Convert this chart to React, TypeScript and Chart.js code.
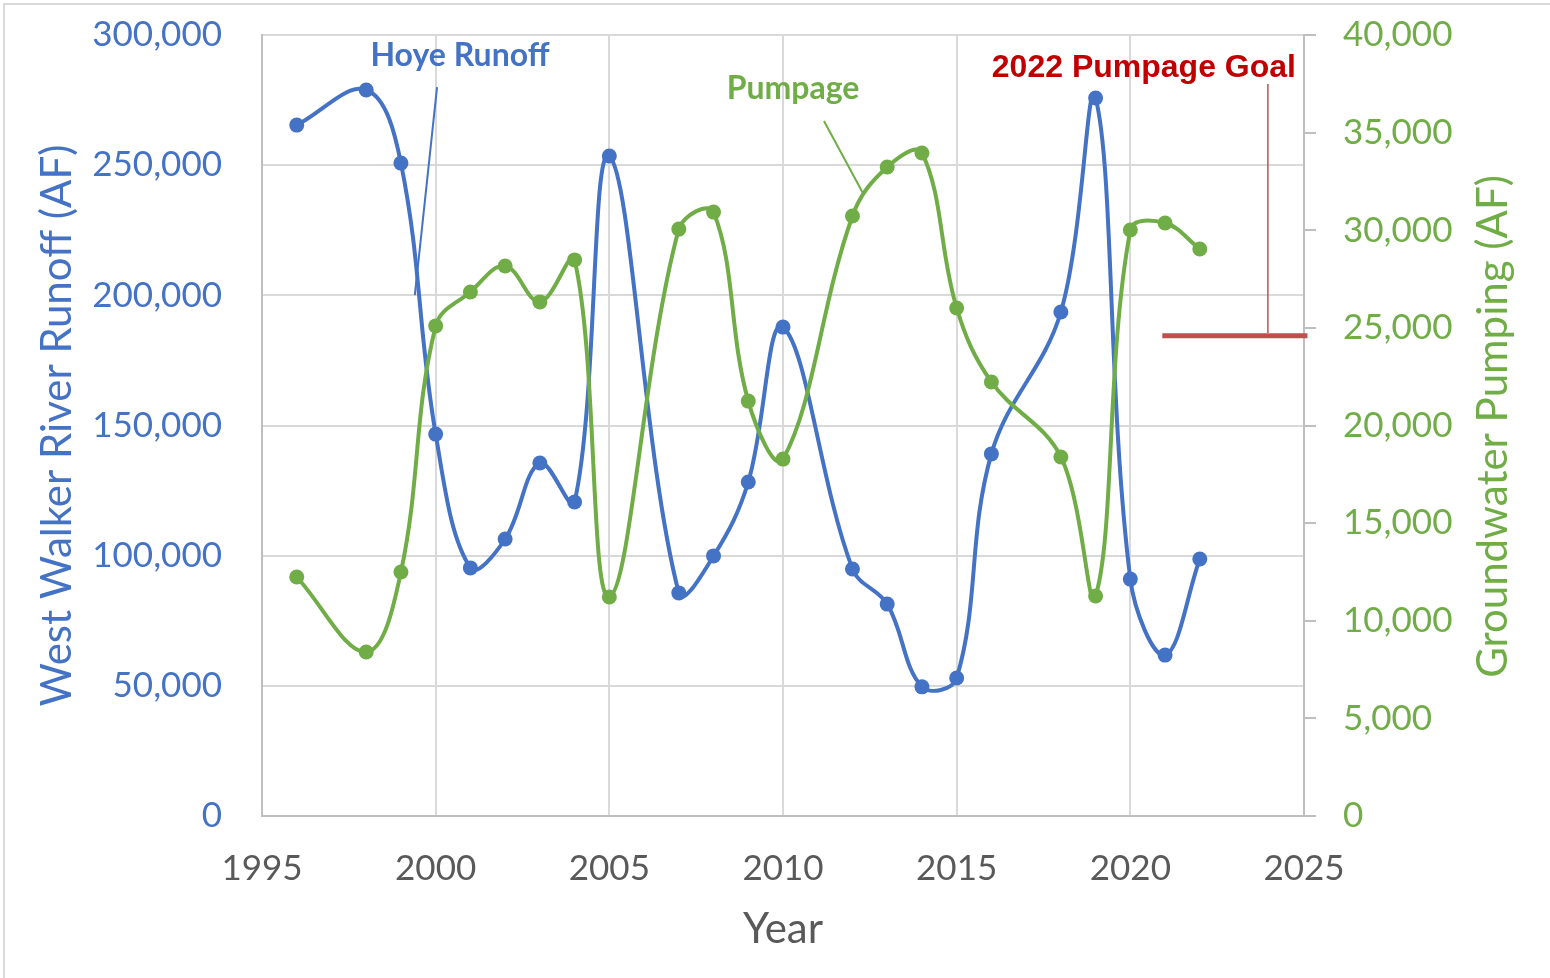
import React, { useEffect, useRef } from "react";
import { Chart, registerables } from "chart.js";

Chart.register(...registerables);

// ---- data ----
const years = [1996, 1998, 1999, 2000, 2001, 2002, 2003, 2004, 2005, 2007, 2008, 2009, 2010, 2012, 2013, 2014, 2015, 2016, 2018, 2019, 2020, 2021, 2022];
const runoff = [265400, 278900, 250800, 146700, 95300, 106400, 135600, 120600, 253500, 85700, 99900, 128300, 187800, 94900, 81400, 49600, 53000, 139100, 193600, 275800, 91000, 61800, 98700];
const pumpage = [12240, 8400, 12500, 25100, 26840, 28170, 26330, 28480, 11220, 30060, 30930, 21250, 18280, 30730, 33240, 33960, 26020, 22230, 18390, 11270, 30010, 30370, 29040];
const goalYears = [2020.92, 2025.1];
const goalValues = [24600, 24600];

const xTitle = "Year";
const yTitle = "West Walker River Runoff (AF)";
const y2Title = "Groundwater Pumping (AF)";

// annotation labels: text, axis, label position (year, value), leader line endpoints
const labelTexts = ["Hoye Runoff", "Pumpage", "2022 Pumpage Goal"];
const labelAxes = ["y", "y2", "y2"];
const labelYears = [2000.7, 2010.29, 2020.39];
const labelValues = [291900, 37230, 38310];
const leaderYears = [[2000.04, 1999.4], [2011.18, 2012.3], [2023.96, 2023.96]];
const leaderValues = [[280000, 200100], [35600, 31910], [37490, 24740]];

const BLUE = "#4472C4";
const GREEN = "#70AD47";
const RED_TEXT = "#C00000";
const RED_LINE = "#C0504D";
const GREY_TEXT = "#595959";
const GRID = "#D9D9D9";
const AXIS = "#BFBFBF";
const FONT = "Lato";

const labelColors = [BLUE, GREEN, RED_TEXT];
const labelFonts = [`bold 32px ${FONT}`, `bold 32px ${FONT}`, "bold 32px 'Liberation Sans'"];
const leaderColors = [BLUE, GREEN, RED_LINE];
const leaderWidths = [2, 2, 1.5];

const annotationPlugin = {
  id: "annotationsCustom",
  afterDatasetsDraw(chart: any) {
    const { ctx, scales, chartArea } = chart;
    const xs = scales.x;
    ctx.save();
    for (let i = 0; i < labelTexts.length; i++) {
      const ys = scales[labelAxes[i]];
      ctx.strokeStyle = leaderColors[i];
      ctx.lineWidth = leaderWidths[i];
      ctx.beginPath();
      ctx.moveTo(xs.getPixelForValue(leaderYears[i][0]), ys.getPixelForValue(leaderValues[i][0]));
      ctx.lineTo(xs.getPixelForValue(leaderYears[i][1]), ys.getPixelForValue(leaderValues[i][1]));
      ctx.stroke();
      ctx.font = labelFonts[i];
      ctx.fillStyle = labelColors[i];
      ctx.textAlign = "center";
      ctx.textBaseline = "middle";
      ctx.fillText(labelTexts[i], xs.getPixelForValue(labelYears[i]), ys.getPixelForValue(labelValues[i]));
    }
    // right axis title, reading bottom-to-top
    const y2 = scales.y2;
    ctx.translate(y2.right - 57, (chartArea.top + chartArea.bottom) / 2 + 1);
    ctx.rotate(-Math.PI / 2);
    ctx.font = `42px ${FONT}`;
    ctx.fillStyle = GREEN;
    ctx.textAlign = "center";
    ctx.textBaseline = "middle";
    ctx.fillText(y2Title, 0, 0);
    ctx.restore();
  },
};

export default function App() {
  const ref = useRef<HTMLCanvasElement | null>(null);

  useEffect(() => {
    if (!ref.current) return;
    const chart = new Chart(ref.current, {
      type: "line",
      data: {
        datasets: [
          {
            label: "Goal",
            data: goalYears.map((x, i) => ({ x, y: goalValues[i] })),
            yAxisID: "y2",
            borderColor: RED_LINE,
            backgroundColor: RED_LINE,
            borderWidth: 5,
            pointRadius: 0,
            tension: 0,
            clip: false as any,
            order: 0,
          },
          {
            label: "Pumpage",
            data: years.map((x, i) => ({ x, y: pumpage[i] })),
            yAxisID: "y2",
            borderColor: GREEN,
            backgroundColor: GREEN,
            borderWidth: 4,
            pointRadius: 7.5,
            pointBorderWidth: 0,
            pointBackgroundColor: GREEN,
            tension: 0.38,
            order: 1,
          },
          {
            label: "Hoye Runoff",
            data: years.map((x, i) => ({ x, y: runoff[i] })),
            yAxisID: "y",
            borderColor: BLUE,
            backgroundColor: BLUE,
            borderWidth: 4,
            pointRadius: 7.5,
            pointBorderWidth: 0,
            pointBackgroundColor: BLUE,
            tension: 0.38,
            order: 2,
          },
        ],
      },
      options: {
        animation: false,
        responsive: false,
        devicePixelRatio: 1,
        layout: { padding: { top: 35, left: 0, right: 0, bottom: 0 } },
        plugins: {
          legend: { display: false },
          tooltip: { enabled: false },
        },
        scales: {
          x: {
            type: "linear",
            min: 1995,
            max: 2025,
            ticks: {
              stepSize: 5,
              color: GREY_TEXT,
              font: { family: FONT, size: 35 },
              padding: 32,
              maxRotation: 0,
              callback: (v: any) => String(v),
            },
            grid: { color: GRID, lineWidth: 2, drawTicks: false },
            border: { color: AXIS, width: 2 },
            title: {
              display: true,
              text: xTitle,
              color: GREY_TEXT,
              font: { family: FONT, size: 42 },
              padding: { top: 0, bottom: 23 },
            },
            afterFit: (s: any) => {
              s.height = 162;
              s.paddingLeft = 0;
              s.paddingRight = 0;
            },
          },
          y: {
            position: "left",
            min: 0,
            max: 300000,
            ticks: {
              stepSize: 50000,
              color: BLUE,
              font: { family: FONT, size: 35 },
              padding: 40,
              callback: (v: any) => Number(v).toLocaleString("en-US"),
            },
            grid: { color: GRID, lineWidth: 2, drawTicks: false },
            border: { color: AXIS, width: 2 },
            title: {
              display: true,
              text: yTitle,
              color: BLUE,
              font: { family: FONT, size: 42 },
              padding: { top: 32, bottom: 0 },
            },
            afterFit: (s: any) => {
              s.width = 262;
              s.paddingTop = 0;
              s.paddingBottom = 0;
            },
          },
          y2: {
            position: "right",
            min: 0,
            max: 40000,
            ticks: {
              stepSize: 5000,
              color: GREEN,
              font: { family: FONT, size: 35 },
              padding: 27,
              callback: (v: any) => Number(v).toLocaleString("en-US"),
            },
            grid: { drawOnChartArea: false, color: AXIS, lineWidth: 2, tickLength: 12 },
            border: { color: AXIS, width: 2 },
            afterFit: (s: any) => {
              s.width = 246;
              s.paddingTop = 0;
              s.paddingBottom = 0;
            },
          },
        },
      },
      plugins: [annotationPlugin],
    } as any);
    return () => chart.destroy();
  }, []);

  return (
    <div style={{ position: "absolute", left: 0, top: 0, width: 1550, height: 978, background: "#fff", overflow: "hidden" }}>
      <canvas ref={ref} width={1550} height={978} style={{ display: "block" }} />
      <div
        style={{
          position: "absolute",
          left: 3,
          top: 3,
          width: 1547,
          height: 975,
          borderTop: "2px solid #D9D9D9",
          borderLeft: "2px solid #D9D9D9",
          pointerEvents: "none",
        }}
      />
    </div>
  );
}
